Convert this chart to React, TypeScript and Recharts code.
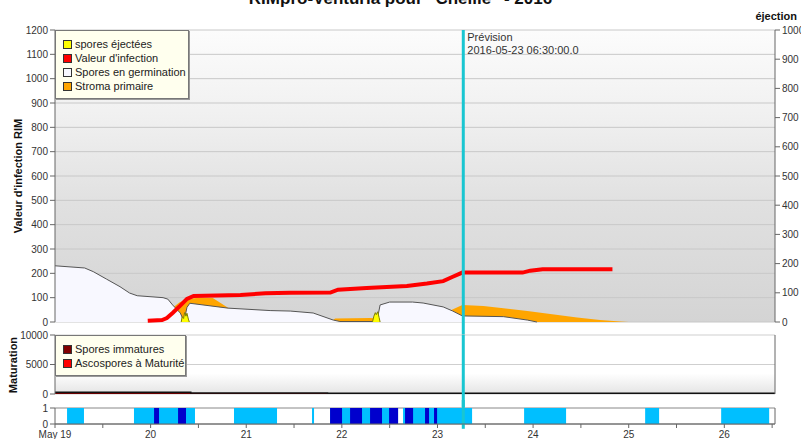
import {
  ComposedChart,
  Area,
  Line,
  XAxis,
  YAxis,
  CartesianGrid,
  ReferenceLine,
} from "recharts"

type Pair = [number, number | null]

// x = jours depuis le 19 mai 00:00
const dayLabels = ["May 19", "20", "21", "22", "23", "24", "25", "26"]
const xTicks = [0, 0.5, 1, 1.5, 2, 2.5, 3, 3.5, 4, 4.5, 5, 5.5, 6, 6.5, 7, 7.5]
const rimTicks = [0, 100, 200, 300, 400, 500, 600, 700, 800, 900, 1000, 1100, 1200]
const ejectionTicks = [0, 100, 200, 300, 400, 500, 600, 700, 800, 900, 1000]
const maturationTicks = [0, 5000, 10000]
const wetTicks = [0, 1]

const forecastDay = 4.27
const forecastText = ["Prévision", "2016-05-23 06:30:00.0"]

const germination: Pair[] = [
  [0, 231], [0.31, 222], [0.4, 207], [0.54, 176], [0.68, 145], [0.78, 119],
  [0.86, 108], [1.13, 100], [1.18, 94], [1.23, 70], [1.31, 37], [1.35, 3],
  [1.38, 60], [1.41, 77], [1.81, 57], [2.25, 47], [2.46, 45], [2.7, 37],
  [2.91, 8], [2.98, 2], [3.32, 2], [3.37, 10], [3.4, 70], [3.5, 82],
  [3.74, 82], [3.85, 78], [4.06, 62], [4.16, 45], [4.26, 25], [4.69, 22],
  [4.94, 8], [5.04, 0],
]

const stroma: Pair[] = [
  [1.15, 0], [1.22, 55], [1.3, 80], [1.38, 95], [1.5, 100], [1.65, 99],
  [1.83, 53], [1.86, 0], [2.88, 0], [2.93, 14], [3.3, 16], [3.36, 14],
  [3.4, 0], [4.08, 0], [4.14, 48], [4.26, 70], [4.48, 66], [4.69, 57],
  [4.94, 45], [5.18, 33], [5.46, 18], [5.7, 8], [5.91, 2], [6.0, 0],
]

const infection: Pair[] = [
  [0.97, 5], [1.12, 8], [1.17, 16], [1.23, 37], [1.31, 67], [1.38, 95],
  [1.45, 107], [1.94, 111], [2.2, 118], [2.46, 120], [2.88, 121],
  [2.96, 133], [3.26, 140], [3.68, 148], [3.89, 158], [4.06, 168],
  [4.16, 186], [4.26, 203], [4.89, 203], [4.97, 211], [5.1, 217], [5.83, 217],
]

// axe de droite (éjection)
const ejected: Pair[] = [
  [1.32, 0], [1.33, 18], [1.345, 12], [1.355, 32], [1.37, 20], [1.38, 30],
  [1.395, 10], [1.405, 0], [2.0, null],
  [3.32, 0], [3.335, 20], [3.35, 32], [3.36, 25], [3.375, 35], [3.39, 15],
  [3.4, 0],
]

const immatures: Pair[] = [[0, 300], [1.42, 180], [2.85, 130], [7.53, 130]]

// périodes d'humectation [début, fin]
const wetLight: [number, number][] = [
  [0.126, 0.303], [0.826, 1.464], [1.872, 2.322], [2.688, 2.709],
  [2.877, 3.588], [3.64, 4.362], [4.906, 5.345], [6.172, 6.318],
  [6.967, 7.469],
]
const wetDark: [number, number][] = [
  [1.036, 1.088], [1.287, 1.37], [2.877, 3.002], [3.086, 3.211],
  [3.295, 3.42], [3.494, 3.588], [3.661, 3.745], [3.87, 3.912],
  [3.964, 3.996],
]

const xDomain = [0, 7.53]
const font = "'Liberation Sans', Arial, sans-serif"
const tickStyle = { fontSize: 10, fill: "#333" }
const cyan = "#19c6d1"

const toPoints = (pairs: Pair[]) => pairs.map(([x, v]) => ({ x, v }))

function toSteps(segs: [number, number][]) {
  const pts = [{ x: 0, v: 0 }]
  segs.forEach(([s, e]) => {
    pts.push({ x: s, v: 1 }, { x: e, v: 0 })
  })
  pts.push({ x: xDomain[1], v: 0 })
  return pts
}

function ForecastLabel(props: any) {
  const vb = props.viewBox || {}
  const x = (vb.x ?? 0) + 4
  const y = vb.y ?? 30
  return (
    <text x={x} y={y} fontSize={11} fill="#333">
      <tspan x={x} dy={11}>{forecastText[0]}</tspan>
      <tspan x={x} dy={13}>{forecastText[1]}</tspan>
    </text>
  )
}

function LegendBox({
  items,
  left,
  top,
  width,
  height,
}: {
  items: { label: string; color: string }[]
  left: number
  top: number
  width: number
  height: number
}) {
  return (
    <div
      style={{
        position: "absolute",
        left,
        top,
        width,
        height,
        boxSizing: "border-box",
        background: "#ffffee",
        border: "1px solid #777",
        boxShadow: "1px 1px 0 #999",
        padding: "6px 0 0 7px",
        fontSize: 11,
        color: "#222",
      }}
    >
      {items.map((it) => (
        <div
          key={it.label}
          style={{ display: "flex", alignItems: "center", height: 14 }}
        >
          <span
            style={{
              width: 7,
              height: 7,
              background: it.color,
              border: "1px solid #333",
              marginRight: 3,
            }}
          />
          {it.label}
        </div>
      ))}
    </div>
  )
}

export default function App() {
  return (
    <div
      style={{
        position: "absolute",
        left: 0,
        top: 0,
        width: 801,
        height: 439,
        overflow: "hidden",
        background: "#fff",
        fontFamily: font,
      }}
    >
      {/* titre, coupé en haut comme sur l'original */}
      <div
        style={{
          position: "absolute",
          left: 0,
          top: -10,
          width: 801,
          textAlign: "center",
          fontSize: 17,
          lineHeight: "17px",
          fontWeight: 700,
          color: "#111",
        }}
      >
        RIMpro-Venturia pour "Chellie" - 2016
      </div>
      <div
        style={{
          position: "absolute",
          right: 4,
          top: 11,
          fontSize: 11,
          lineHeight: "11px",
          fontWeight: 700,
          color: "#111",
        }}
      >
        éjection
      </div>

      {/* valeurs d'infection */}
      <div style={{ position: "absolute", left: 0, top: 0 }}>
        <ComposedChart
          width={801}
          height={340}
          margin={{ top: 30, right: 0, bottom: 18, left: 0 }}
        >
          <defs>
            <linearGradient id="mainBg" x1="0" y1="0" x2="0" y2="1">
              <stop offset="0%" stopColor="#fcfcfc" />
              <stop offset="30%" stopColor="#f0f0f0" />
              <stop offset="60%" stopColor="#e0e0e0" />
              <stop offset="100%" stopColor="#d4d4d4" />
            </linearGradient>
          </defs>
          <CartesianGrid
            vertical={false}
            fill="url(#mainBg)"
            fillOpacity={1}
            stroke="#c8c8c8"
          />
          <XAxis
            dataKey="x"
            type="number"
            domain={xDomain}
            allowDataOverflow
            hide
          />
          <YAxis
            domain={[0, 1200]}
            ticks={rimTicks}
            width={55}
            tick={tickStyle}
            tickSize={5}
            tickMargin={2}
            axisLine={{ stroke: "#666" }}
            tickLine={{ stroke: "#666" }}
            interval={0}
          />
          <YAxis
            yAxisId="right"
            orientation="right"
            domain={[0, 1000]}
            ticks={ejectionTicks}
            width={26}
            tick={tickStyle}
            tickSize={5}
            tickMargin={2}
            axisLine={{ stroke: "#666" }}
            tickLine={{ stroke: "#666" }}
            interval={0}
          />
          <Area
            data={toPoints(stroma)}
            dataKey="v"
            type="linear"
            fill="#ffa500"
            fillOpacity={1}
            stroke="none"
            isAnimationActive={false}
          />
          <Area
            data={toPoints(germination)}
            dataKey="v"
            type="linear"
            fill="#f8f8ff"
            fillOpacity={1}
            stroke="#555"
            strokeWidth={1}
            isAnimationActive={false}
          />
          <Area
            yAxisId="right"
            data={toPoints(ejected)}
            dataKey="v"
            type="linear"
            fill="#ffff00"
            fillOpacity={1}
            stroke="#808000"
            strokeWidth={1}
            isAnimationActive={false}
          />
          <Line
            data={toPoints(infection)}
            dataKey="v"
            type="linear"
            stroke="#ff0000"
            strokeWidth={4}
            dot={false}
            isAnimationActive={false}
          />
          <ReferenceLine
            segment={[
              { x: forecastDay, y: -60 },
              { x: forecastDay, y: 1200 },
            ]}
            ifOverflow="visible"
            stroke={cyan}
            strokeWidth={3}
            label={(p: any) => <ForecastLabel {...p} />}
          />
        </ComposedChart>
      </div>

      {/* maturation */}
      <div style={{ position: "absolute", left: 0, top: 322 }}>
        <ComposedChart
          width={801}
          height={85}
          margin={{ top: 13, right: 0, bottom: 13, left: 0 }}
        >
          <defs>
            <linearGradient id="matBg" x1="0" y1="0" x2="0" y2="1">
              <stop offset="0%" stopColor="#ffffff" />
              <stop offset="65%" stopColor="#ffffff" />
              <stop offset="100%" stopColor="#e4e4e4" />
            </linearGradient>
          </defs>
          <CartesianGrid
            vertical={false}
            fill="url(#matBg)"
            fillOpacity={1}
            stroke="#cfcfcf"
          />
          <XAxis
            dataKey="x"
            type="number"
            domain={xDomain}
            allowDataOverflow
            hide
          />
          <YAxis
            domain={[0, 10000]}
            ticks={maturationTicks}
            width={55}
            tick={tickStyle}
            tickSize={5}
            tickMargin={2}
            axisLine={{ stroke: "#666" }}
            tickLine={{ stroke: "#666" }}
            interval={0}
          />
          <YAxis
            yAxisId="right"
            orientation="right"
            domain={[0, 1]}
            width={26}
            tick={false}
            tickLine={false}
            axisLine={{ stroke: "#666" }}
          />
          <Area
            data={toPoints(immatures)}
            dataKey="v"
            type="stepAfter"
            fill="#6b0000"
            fillOpacity={1}
            stroke="#111"
            strokeWidth={1.5}
            isAnimationActive={false}
          />
          <ReferenceLine
            segment={[
              { x: forecastDay, y: -2200 },
              { x: forecastDay, y: 10000 },
            ]}
            ifOverflow="visible"
            stroke={cyan}
            strokeWidth={3}
          />
        </ComposedChart>
      </div>

      {/* humectation */}
      <div style={{ position: "absolute", left: 0, top: 400 }}>
        <ComposedChart
          width={801}
          height={39}
          margin={{ top: 8, right: 0, bottom: 0, left: 0 }}
        >
          <CartesianGrid
            vertical={false}
            fill="#fff"
            fillOpacity={1}
            stroke="#888"
          />
          <XAxis
            dataKey="x"
            type="number"
            domain={xDomain}
            allowDataOverflow
            ticks={xTicks}
            interval={0}
            height={15}
            tick={tickStyle}
            tickSize={4}
            tickMargin={3}
            tickFormatter={(v: number) =>
              Number.isInteger(v) ? dayLabels[v] : ""
            }
            axisLine={{ stroke: "#666" }}
            tickLine={{ stroke: "#666" }}
          />
          <YAxis
            domain={[0, 1]}
            ticks={wetTicks}
            width={55}
            tick={tickStyle}
            tickSize={5}
            tickMargin={2}
            axisLine={{ stroke: "#666" }}
            tickLine={{ stroke: "#666" }}
            interval={0}
          />
          <YAxis
            yAxisId="right"
            orientation="right"
            domain={[0, 1]}
            width={26}
            tick={false}
            tickLine={false}
            axisLine={{ stroke: "#666" }}
          />
          <Area
            data={toSteps(wetLight)}
            dataKey="v"
            type="stepAfter"
            fill="#00bfff"
            fillOpacity={1}
            stroke="none"
            isAnimationActive={false}
          />
          <Area
            data={toSteps(wetDark)}
            dataKey="v"
            type="stepAfter"
            fill="#0000cd"
            fillOpacity={1}
            stroke="none"
            isAnimationActive={false}
          />
          <ReferenceLine
            segment={[
              { x: forecastDay, y: -0.3 },
              { x: forecastDay, y: 1.5 },
            ]}
            ifOverflow="visible"
            stroke={cyan}
            strokeWidth={3}
          />
        </ComposedChart>
      </div>

      {/* titres des axes */}
      <div
        style={{
          position: "absolute",
          left: 18 - 100,
          top: 176 - 6,
          width: 200,
          height: 12,
          lineHeight: "12px",
          textAlign: "center",
          fontSize: 11,
          fontWeight: 700,
          color: "#111",
          transform: "rotate(-90deg)",
        }}
      >
        Valeur d'infection RIM
      </div>
      <div
        style={{
          position: "absolute",
          left: 13 - 50,
          top: 365 - 6,
          width: 100,
          height: 12,
          lineHeight: "12px",
          textAlign: "center",
          fontSize: 11,
          fontWeight: 700,
          color: "#111",
          transform: "rotate(-90deg)",
        }}
      >
        Maturation
      </div>

      <LegendBox
        left={55}
        top={30}
        width={134}
        height={69}
        items={[
          { label: "spores éjectées", color: "#ffff00" },
          { label: "Valeur d'infection", color: "#ff0000" },
          { label: "Spores en germination", color: "#f8f8ff" },
          { label: "Stroma primaire", color: "#ffa500" },
        ]}
      />
      <LegendBox
        left={55}
        top={335}
        width={131}
        height={41}
        items={[
          { label: "Spores immatures", color: "#800000" },
          { label: "Ascospores à Maturité", color: "#ff0000" },
        ]}
      />
    </div>
  )
}
